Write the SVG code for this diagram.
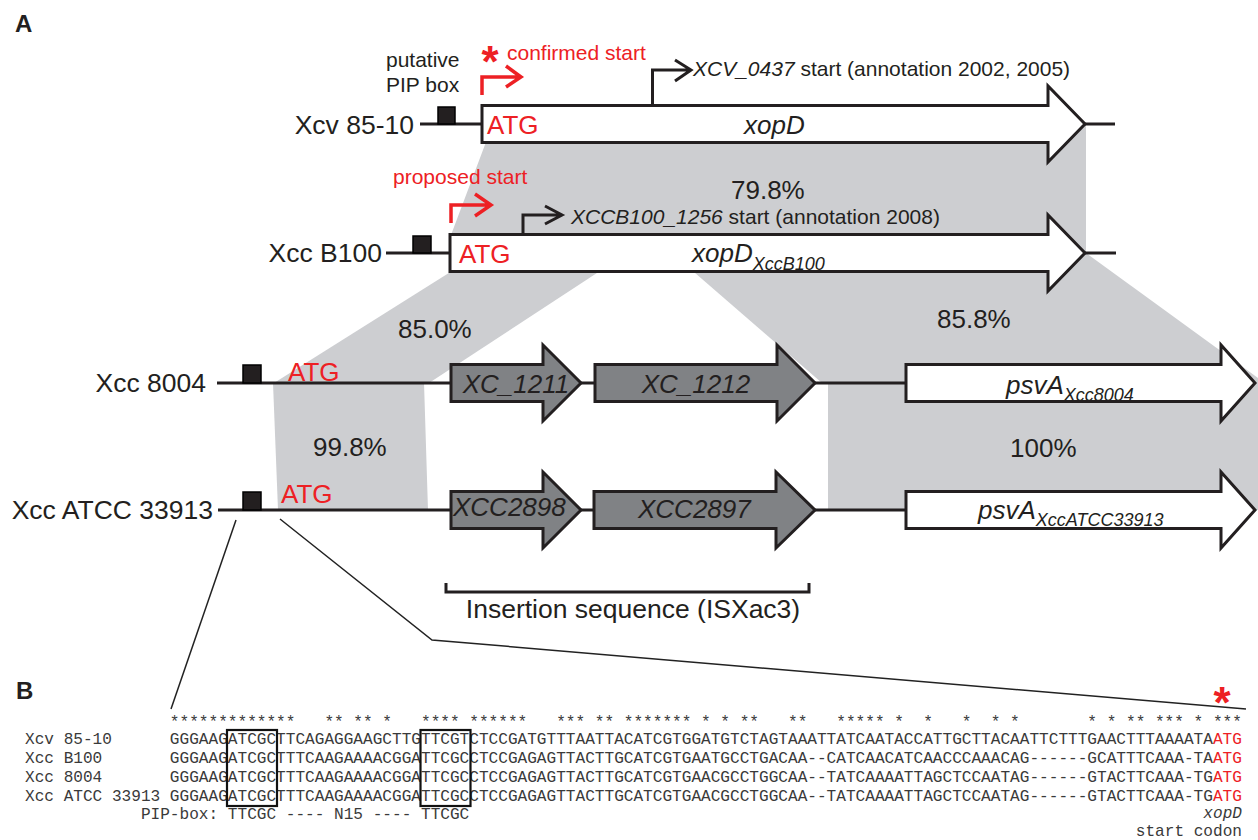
<svg xmlns="http://www.w3.org/2000/svg" width="1258" height="840" viewBox="0 0 1258 840">
<style>
text{font-family:"Liberation Sans",Arial,sans-serif;fill:#231f20}
.lbl{font-size:26.5px}
.pct{font-size:26px}
.gn{font-size:26px;font-style:italic}
.sub{font-size:18px;font-style:italic}
.sm{font-size:21px}
.red{fill:#ed2024}
.atg{font-size:26px;fill:#ed2024}
.star{font-size:44px;font-weight:bold;fill:#ed2024}
.panel{font-size:24px;font-weight:bold}
.shade{fill:#cdced1;stroke:none}
.bb{fill:none;stroke:#231f20;stroke-width:3}
.genew{fill:#fff;stroke:#231f20;stroke-width:3;stroke-linejoin:miter}
.geneg{fill:#808285;stroke:#231f20;stroke-width:3;stroke-linejoin:miter}
.pip{fill:#231f20;stroke:#000;stroke-width:1.5}
.rarr{fill:none;stroke:#ed2024;stroke-width:3.5}
.karr{fill:none;stroke:#231f20;stroke-width:3}
.zl{fill:none;stroke:#222;stroke-width:1.5}
.mono{font-family:"Liberation Mono","Courier New",monospace;font-size:16.1px;fill:#3a3a3a;white-space:pre}
.box{fill:none;stroke:#111;stroke-width:2.2}
</style>

<text class="panel" x="15" y="32">A</text>
<text class="panel" x="16" y="699">B</text>

<g id="shading">
<polygon class="shade" points="486,142 1040,142 1086,124 1086,253 451,253 451,235"/>
<polygon class="shade" points="452,271 600,271 429,383 274,383"/>
<polygon class="shade" points="672,253 1086,253 1258,378 1258,383 822,383"/>
<polygon class="shade" points="828,383 1258,383 1258,510 828,510"/>
<polygon class="shade" points="273,383 424,383 428,510 278,510"/>
</g>

<g id="connectors">
<line class="bb" x1="420" y1="124" x2="482" y2="124"/>
<line class="bb" x1="1085" y1="124" x2="1115" y2="124"/>
<line class="bb" x1="386" y1="253" x2="450" y2="253"/>
<line class="bb" x1="1085" y1="253" x2="1116" y2="253"/>
<line class="bb" x1="217" y1="383" x2="906" y2="383"/>
<line class="bb" x1="218" y1="510" x2="906" y2="510"/>
<path class="zl" d="M236,520 L171,709"/>
<path class="zl" d="M280,519 L432,640 L1246,709"/>
<path class="bb" d="M446,583 V592 H809 V583"/>
</g>

<g id="row-xcv">
<text class="lbl" x="414" y="134" text-anchor="end">Xcv 85-10</text>
<rect class="pip" x="438" y="107" width="17" height="17"/>
<path class="genew" d="M482,105.5 H1048 V86 L1085,124 L1048,162 V142.5 H482 Z"/>
<text class="atg" x="487" y="134">ATG</text>
<text class="gn" x="744" y="134">xopD</text>
<text class="sm" x="386" y="67">putative</text>
<text class="sm" x="386" y="92">PIP box</text>
<text class="star" x="490" y="77" text-anchor="middle">*</text>
<text class="sm red" x="507" y="60">confirmed start</text>
<path class="rarr" d="M482,95 V77 H520 M506,66 L521,77 L506,87"/>
<path class="karr" d="M652.5,105 V70 H690 M675,60 L691,70 L675,81"/>
<text class="sm" x="693" y="76"><tspan font-style="italic">XCV_0437</tspan> start (annotation 2002, 2005)</text>
</g>

<g id="row-b100">
<text class="lbl" x="382" y="262" text-anchor="end">Xcc B100</text>
<rect class="pip" x="413" y="236" width="18" height="17"/>
<path class="genew" d="M450,234.5 H1048 V215 L1085,253 L1048,291 V271.5 H450 Z"/>
<text class="atg" x="459" y="263">ATG</text>
<text class="gn" x="692" y="262">xopD<tspan class="sub" dy="8">XccB100</tspan></text>
<text class="sm red" x="393" y="184">proposed start</text>
<path class="rarr" d="M451,223 V205 H490 M475,194 L491,205 L475,216"/>
<path class="karr" d="M523,234 V215 H561 M545,206 L562,215 L545,224"/>
<text class="sm" x="571" y="224"><tspan font-style="italic">XCCB100_1256</tspan> start (annotation 2008)</text>
</g>

<g id="row-8004">
<text class="lbl" x="206" y="392" text-anchor="end">Xcc 8004</text>
<rect class="pip" x="243" y="365" width="18" height="18"/>
<text class="atg" x="288" y="381">ATG</text>
<path class="geneg" d="M451,364.5 H543 V345 L581,383 L543,421 V401.5 H451 Z"/>
<text class="gn" x="516" y="393" text-anchor="middle">XC_1211</text>
<path class="geneg" d="M595,364.5 H777 V345 L815,383 L777,421 V401.5 H595 Z"/>
<text class="gn" x="696" y="393" text-anchor="middle">XC_1212</text>
<path class="genew" d="M906,364.5 H1221 V345 L1255,383 L1221,421 V401.5 H906 Z"/>
<text class="gn" x="1006" y="394">psvA<tspan class="sub" dy="7">Xcc8004</tspan></text>
</g>

<g id="row-atcc">
<text class="lbl" x="213" y="519" text-anchor="end">Xcc ATCC 33913</text>
<rect class="pip" x="243" y="492" width="18" height="18"/>
<text class="atg" x="281" y="503">ATG</text>
<path class="geneg" d="M451,491.5 H543 V472 L581,510 L543,548 V528.5 H451 Z"/>
<text class="gn" x="453" y="516">XCC2898</text>
<path class="geneg" d="M594,491.5 H776 V472 L815,510 L776,548 V528.5 H594 Z"/>
<text class="gn" x="638" y="518">XCC2897</text>
<path class="genew" d="M906,491.5 H1221 V472 L1255,510 L1221,548 V528.5 H906 Z"/>
<text class="gn" x="978" y="519">psvA<tspan class="sub" dy="7">XccATCC33913</tspan></text>
</g>

<g id="identities">
<text class="pct" x="731" y="199">79.8%</text>
<text class="pct" x="398" y="338">85.0%</text>
<text class="pct" x="937" y="328">85.8%</text>
<text class="pct" x="313" y="456">99.8%</text>
<text class="pct" x="1010" y="457">100%</text>
</g>

<g id="insertion">
<text class="lbl" x="633" y="618" text-anchor="middle">Insertion sequence (ISXac3)</text>
</g>

<g id="alignment">
<text class="star" x="1222" y="718" text-anchor="middle">*</text>
<text class="mono" x="25" y="727" xml:space="preserve">               *************   ** ** *   **** ******   *** ** ******* * * **   **   ***** *  *   *  * *       * * ** *** * ***</text>
<text class="mono" x="25" y="744" xml:space="preserve">Xcv 85-10      GGGAAGATCGCTTCAGAGGAAGCTTGTTCGTCTCCGATGTTTAATTACATCGTGGATGTCTAGTAAATTATCAATACCATTGCTTACAATTCTTTGAACTTTAAAATA<tspan fill="#ed2024">ATG</tspan></text>
<text class="mono" x="25" y="763" xml:space="preserve">Xcc B100       GGGAAGATCGCTTTCAAGAAAACGGATTCGCCTCCGAGAGTTACTTGCATCGTGAATGCCTGACAA--CATCAACATCAACCCAAACAG------GCATTTCAAA-TA<tspan fill="#ed2024">ATG</tspan></text>
<text class="mono" x="25" y="782" xml:space="preserve">Xcc 8004       GGGAAGATCGCTTTCAAGAAAACGGATTCGCCTCCGAGAGTTACTTGCATCGTGAACGCCTGGCAA--TATCAAAATTAGCTCCAATAG------GTACTTCAAA-TG<tspan fill="#ed2024">ATG</tspan></text>
<text class="mono" x="25" y="801" xml:space="preserve">Xcc ATCC 33913 GGGAAGATCGCTTTCAAGAAAACGGATTCGCCTCCGAGAGTTACTTGCATCGTGAACGCCTGGCAA--TATCAAAATTAGCTCCAATAG------GTACTTCAAA-TG<tspan fill="#ed2024">ATG</tspan></text>
<text class="mono" x="140.9" y="819" xml:space="preserve">PIP-box: TTCGC ---- N15 ---- TTCGC</text>
<text class="mono" x="1242" y="818" text-anchor="end" font-style="italic">xopD</text>
<text class="mono" x="1242" y="836" text-anchor="end">start codon</text>
<rect class="box" x="227" y="730" width="50" height="76"/>
<rect class="box" x="420.5" y="730" width="50" height="76"/>
</g>
</svg>
